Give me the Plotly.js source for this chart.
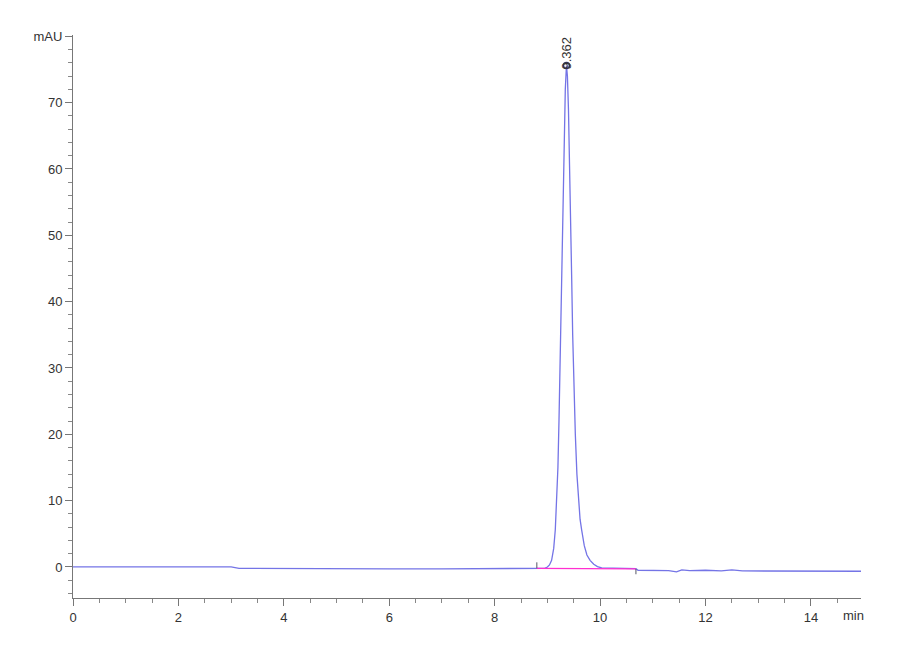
<!DOCTYPE html>
<html>
<head>
<meta charset="utf-8">
<script src="https://cdn.plot.ly/plotly-3.0.1.min.js"></script>
<style>
  body { margin: 0; background: #fff; }
  #chart { width: 900px; height: 660px; }
</style>
</head>
<body>
<div id="chart"></div>
<script>
// chromatogram signal (min, mAU)
const time = [0, 1, 2, 3.0, 3.15, 4, 5, 6, 7, 8, 8.8, 8.95,
  9.00, 9.04, 9.08, 9.12, 9.15, 9.18, 9.20, 9.22, 9.24, 9.26, 9.28, 9.30, 9.32, 9.34, 9.362,
  9.38, 9.40, 9.42, 9.44, 9.46, 9.48, 9.50, 9.53, 9.56, 9.59, 9.62, 9.65, 9.70, 9.75,
  9.81, 9.88, 9.95, 10.03, 10.4, 10.68, 10.72, 11.0, 11.3, 11.45, 11.55,
  11.7, 12.0, 12.3, 12.5, 12.7, 13.0, 14.0, 15.0];
const signal = [0.0, 0.0, 0.0, 0.0, -0.2, -0.25, -0.25, -0.3, -0.3, -0.3, -0.25, -0.2,
  0.0, 0.3, 1.0, 2.8, 5.6, 10, 15, 22, 30, 40, 50, 58, 66, 72, 75.6,
  74, 69, 62, 53, 44, 35, 28, 20, 14, 10, 7.2, 5.6, 3.2, 1.8,
  1.0, 0.4, 0.05, -0.15, -0.2, -0.25, -0.5, -0.5, -0.55, -0.75, -0.45,
  -0.55, -0.5, -0.6, -0.45, -0.6, -0.6, -0.6, -0.65];

// integration baseline and its start / end markers
const baseTime = [8.8, 10.68];
const baseSignal = [-0.2, -0.3];
const markStart = [-0.2, 0.7];
const markEnd = [-0.3, -1.1];

// peak label
const peakTime = 9.362;
const peakHeight = 75.6;
const peakLabel = "9.362";

const yTicks = [0, 10, 20, 30, 40, 50, 60, 70, 80];
const yTickText = ["0", "10", "20", "30", "40", "50", "60", "70", "mAU"];
const xTicks = [0, 2, 4, 6, 8, 10, 12, 14];

const fontName = "Liberation Sans Narrow, Liberation Sans, Arial, sans-serif";

const traces = [
  { x: time, y: signal, type: 'scatter', mode: 'lines',
    line: { color: '#7474e6', width: 1.3 }, hoverinfo: 'skip' },
  { x: baseTime, y: baseSignal, type: 'scatter', mode: 'lines',
    line: { color: '#ff2fd0', width: 1.3 }, hoverinfo: 'skip' },
  { x: [baseTime[0], baseTime[0]], y: markStart, type: 'scatter', mode: 'lines',
    line: { color: '#555566', width: 1 }, hoverinfo: 'skip' },
  { x: [baseTime[1], baseTime[1]], y: markEnd, type: 'scatter', mode: 'lines',
    line: { color: '#555566', width: 1 }, hoverinfo: 'skip' },
  { x: [peakTime], y: [peakHeight], type: 'scatter', mode: 'markers',
    marker: { symbol: 'circle-open', size: 6, color: '#333355', line: { width: 1.5 } },
    hoverinfo: 'skip' }
];

const layout = {
  width: 900, height: 660,
  margin: { l: 73, r: 39, t: 35, b: 62 },
  paper_bgcolor: '#fff', plot_bgcolor: '#fff',
  showlegend: false,
  font: { family: fontName, size: 12, color: '#333' },
  xaxis: {
    range: [0, 14.95], showgrid: false, zeroline: false,
    showline: true, linecolor: '#777', linewidth: 1,
    tickmode: 'array', tickvals: xTicks,
    ticks: 'outside', ticklen: 7, tickcolor: '#777',
    minor: { dtick: 0.5, ticks: 'outside', ticklen: 4, tickcolor: '#888', showgrid: false },
    tickfont: { family: fontName, size: 13, color: '#333' }
  },
  yaxis: {
    range: [-4.68, 80.2], showgrid: false, zeroline: false,
    showline: true, linecolor: '#777', linewidth: 1,
    tickmode: 'array', tickvals: yTicks, ticktext: yTickText,
    ticks: 'outside', ticklen: 7, tickcolor: '#777',
    minor: { dtick: 2, ticks: 'outside', ticklen: 4, tickcolor: '#888', showgrid: false },
    tickfont: { family: fontName, size: 13, color: '#333' }
  },
  annotations: [
    { x: peakTime, y: peakHeight, xref: 'x', yref: 'y', text: peakLabel,
      showarrow: false, textangle: -90, yanchor: 'bottom', xanchor: 'center',
      yshift: -6, font: { family: fontName, size: 13, color: '#333' } },
    { x: 1, y: 0, xref: 'paper', yref: 'paper', text: 'min', showarrow: false,
      xanchor: 'center', yanchor: 'top', xshift: -8, yshift: -8,
      font: { family: fontName, size: 13, color: '#333' } }
  ]
};

Plotly.newPlot('chart', traces, layout, { staticPlot: true });
</script>
</body>
</html>
